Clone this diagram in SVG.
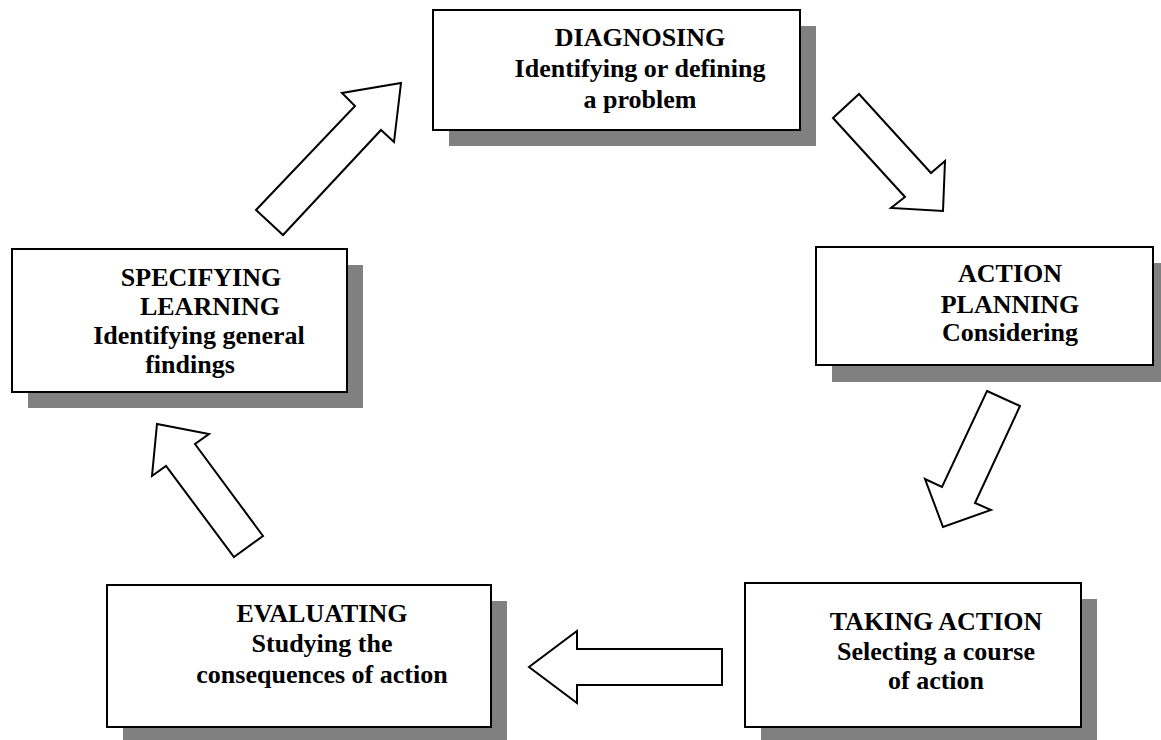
<svg xmlns="http://www.w3.org/2000/svg" width="1161" height="740" viewBox="0 0 1161 740">
<style>
.shadow{fill:#808080;stroke:none}
.box{fill:#fff;stroke:#000;stroke-width:2}
.lbl{font-family:'Liberation Serif','Times New Roman',serif;font-weight:bold;font-size:26px;fill:#000;text-anchor:middle}
.arrow{fill:#fff;stroke:#000;stroke-width:2;stroke-linejoin:miter}
</style>
<rect width="1161" height="740" fill="#fff"/>
<g id="diagnosing">
<rect class="shadow" x="449" y="26" width="367" height="120"/>
<rect class="box" x="433" y="10" width="367" height="120"/>
<text class="lbl" x="640" y="46">DIAGNOSING</text>
<text class="lbl" x="640" y="77">Identifying or defining</text>
<text class="lbl" x="640" y="108">a problem</text>
</g>
<g id="action-planning">
<rect class="shadow" x="832" y="263" width="337" height="119"/>
<rect class="box" x="816" y="247" width="337" height="118"/>
<text class="lbl" x="1010" y="282">ACTION</text>
<text class="lbl" x="1010" y="313">PLANNING</text>
<text class="lbl" x="1010" y="341">Considering</text>
</g>
<g id="taking-action">
<rect class="shadow" x="761" y="599" width="336" height="160"/>
<rect class="box" x="745" y="583" width="336" height="144"/>
<text class="lbl" x="936" y="630">TAKING ACTION</text>
<text class="lbl" x="936" y="660">Selecting a course</text>
<text class="lbl" x="936" y="689">of action</text>
</g>
<g id="evaluating">
<rect class="shadow" x="123" y="601" width="384" height="160"/>
<rect class="box" x="107" y="585" width="384" height="142"/>
<text class="lbl" x="322" y="622">EVALUATING</text>
<text class="lbl" x="322" y="652">Studying the</text>
<text class="lbl" x="322" y="683">consequences of action</text>
</g>
<g id="specifying-learning">
<rect class="shadow" x="28" y="265" width="335" height="143"/>
<rect class="box" x="12" y="249" width="335" height="143"/>
<text class="lbl" x="201" y="286">SPECIFYING</text>
<text class="lbl" x="210" y="315">LEARNING</text>
<text class="lbl" x="199" y="344">Identifying general</text>
<text class="lbl" x="190" y="373">findings</text>
</g>
<g id="connectors">
<polygon class="arrow" points="256,210 355,106 342,93 401,83 394,142 381,130 283,235"/>
<polygon class="arrow" points="833,118 859,94 931,173 945,161 943,211 891,208 905,197"/>
<polygon class="arrow" points="987,391 1020,406 975,503 991,510 943,527 925,479 942,487"/>
<polygon class="arrow" points="722,649 577,649 577,631 529,667 577,703 577,685 722,685"/>
<polygon class="arrow" points="234,557 263,536 195,444 209,434 157,424 152,476 166,466"/>
</g>
</svg>
